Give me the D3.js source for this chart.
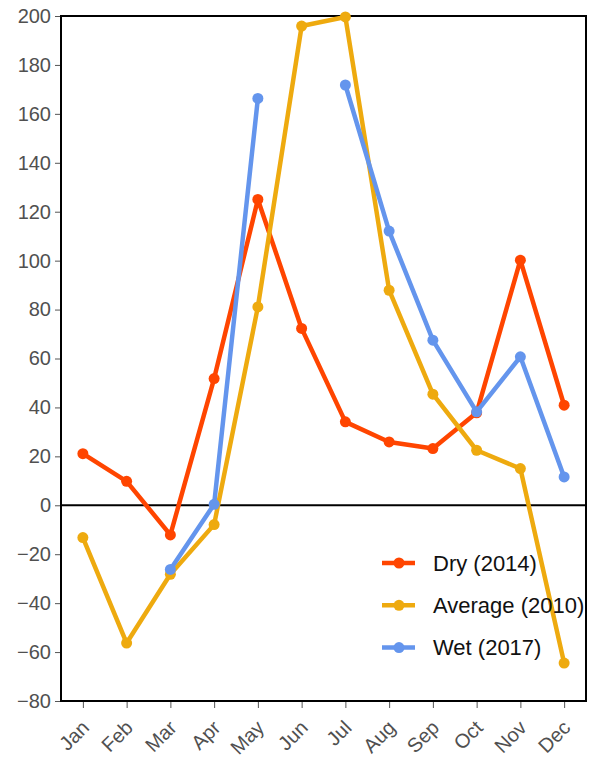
<!DOCTYPE html>
<html><head><meta charset="utf-8">
<script src="https://cdn.jsdelivr.net/npm/d3@7"></script>
<style>body{margin:0;background:#fff;}svg{display:block;font-family:"Liberation Sans",Arial,sans-serif;}</style>
</head><body>
<svg id="chart" width="595" height="760"></svg>
<script>
const months = ["Jan","Feb","Mar","Apr","May","Jun","Jul","Aug","Sep","Oct","Nov","Dec"];
const dry = [21.1, 9.8, -12.1, 51.8, 125.0, 72.3, 34.1, 25.9, 23.2, 37.8, 100.2, 40.9];
const average = [-13.2, -56.3, -28.2, -7.9, 81.1, 195.9, 199.6, 87.9, 45.4, 22.5, 15.0, -64.5];
const wet = [null, null, -26.2, 0.4, 166.3, null, 171.8, 112.1, 67.5, 38.2, 60.7, 11.6];
const yTicks = [-80, -60, -40, -20, 0, 20, 40, 60, 80, 100, 120, 140, 160, 180, 200];
const seriesNames = ["Dry (2014)", "Average (2010)", "Wet (2017)"];
const seriesColors = ["#FF4500", "#EEAA0F", "#6495ED"];

const series = [dry, average, wet].map((v, i) => ({name: seriesNames[i], color: seriesColors[i], values: v}));

const svg = d3.select("#chart");
const m = {left: 61, top: 16, right: 586, bottom: 701};
const x = d3.scalePoint().domain(months).range([m.left, m.right]).padding(0.5);
const y = d3.scaleLinear().domain([-80, 200]).range([m.bottom, m.top]);

// axes
const yAxis = svg.append("g").attr("transform", `translate(${m.left},0)`)
  .call(d3.axisLeft(y).tickValues(yTicks).tickSize(6).tickPadding(4).tickFormat(d => d < 0 ? "\u2212" + Math.abs(d) : d));
yAxis.select(".domain").remove();
yAxis.selectAll(".tick line").attr("stroke", "#555").attr("stroke-width", 1);
yAxis.selectAll(".tick text").attr("fill", "#505050").style("font-size", "20px").style("font-family", "Liberation Sans, Arial, sans-serif");

const xAxis = svg.append("g").attr("transform", `translate(0,${m.bottom})`)
  .call(d3.axisBottom(x).tickSize(7));
xAxis.select(".domain").remove();
xAxis.selectAll(".tick line").attr("stroke", "#555").attr("stroke-width", 1);
xAxis.selectAll(".tick text").attr("fill", "#505050").style("font-size", "20px").style("font-family", "Liberation Sans, Arial, sans-serif")
  .attr("text-anchor", "end").attr("dy", null).attr("y", 0)
  .attr("transform", "translate(7,28) rotate(-45)");

// frame
svg.append("rect").attr("x", m.left).attr("y", m.top).attr("width", m.right - m.left).attr("height", m.bottom - m.top)
  .attr("fill", "none").attr("stroke", "#000").attr("stroke-width", 2);
// zero line
svg.append("line").attr("x1", m.left).attr("x2", m.right).attr("y1", y(0)).attr("y2", y(0))
  .attr("stroke", "#000").attr("stroke-width", 2);

const line = d3.line().defined(d => d.v !== null).x(d => x(d.m)).y(d => y(d.v));
const g = svg.append("g");
series.forEach(s => {
  const pts = s.values.map((v, i) => ({m: months[i], v}));
  g.append("path").attr("d", line(pts)).attr("fill", "none").attr("stroke", s.color).attr("stroke-width", 4.5).attr("stroke-linejoin", "round");
  g.selectAll(null).data(pts.filter(d => d.v !== null)).enter().append("circle")
    .attr("cx", d => x(d.m)).attr("cy", d => y(d.v)).attr("r", 5.5).attr("fill", s.color);
});

// legend
const leg = svg.append("g");
series.forEach((s, i) => {
  const ly = 563 + i * 42.3;
  leg.append("line").attr("x1", 382).attr("x2", 415).attr("y1", ly).attr("y2", ly).attr("stroke", s.color).attr("stroke-width", 4.5);
  leg.append("circle").attr("cx", 399).attr("cy", ly).attr("r", 5.5).attr("fill", s.color);
  leg.append("text").attr("x", 433).attr("y", ly).attr("dy", "0.35em").style("font-size", "22px").attr("fill", "#111").text(s.name);
});
</script>
</body></html>
